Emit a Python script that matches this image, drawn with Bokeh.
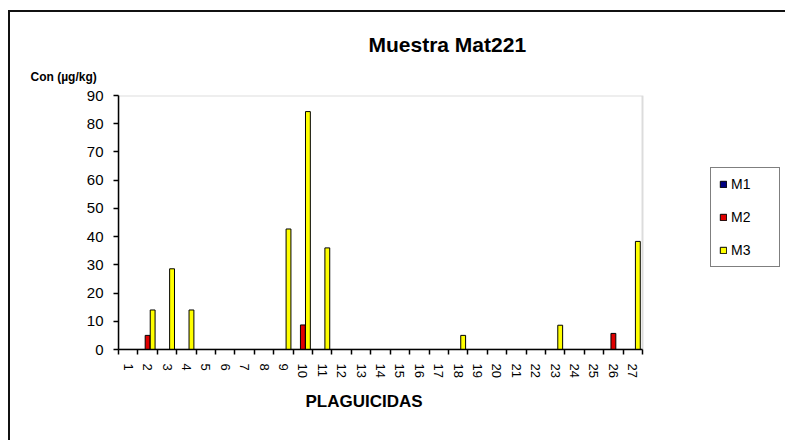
from bokeh.plotting import figure
from bokeh.models import (ColumnDataSource, FixedTicker, Legend, LegendItem,
                          Title, Range1d, BoxAnnotation)
from bokeh.transform import dodge
from bokeh.embed import file_html
from bokeh.resources import INLINE

# ---- data ----
categories = [1, 2, 3, 4, 5, 6, 7, 8, 9, 10, 11, 12, 13, 14, 15, 16, 17, 18,
              19, 20, 21, 22, 23, 24, 25, 26, 27]
tick_labels = [str(c) for c in categories]
series_names = ["M1", "M2", "M3"]
m1 = [0, 0, 0, 0, 0, 0, 0, 0, 0, 0, 0, 0, 0, 0, 0, 0, 0, 0, 0, 0, 0, 0, 0, 0, 0, 0, 0]
m2 = [0, 5, 0, 0, 0, 0, 0, 0, 0, 8.7, 0, 0, 0, 0, 0, 0, 0, 0, 0, 0, 0, 0, 0, 0, 0, 5.7, 0]
m3 = [0, 14, 28.6, 14, 0, 0, 0, 0, 42.7, 84.3, 36, 0, 0, 0, 0, 0, 0, 5, 0, 0, 0, 0, 8.6, 0, 0, 0, 38.3]
y_ticks = [0, 10, 20, 30, 40, 50, 60, 70, 80, 90]

FONT = "Liberation Sans"
colors = ["#000080", "#E00000", "#FFFF00"]

W, H = 785, 440
LEFT, RIGHT_PX, TOP, BOTTOM = 118, 642, 95, 349   # plot-area edges (px)
x_lo, x_hi = categories[0] - 0.5, categories[-1] + 0.5
px_per_unit = (RIGHT_PX - LEFT) / (x_hi - x_lo)
x_view_hi = x_hi + (W - RIGHT_PX) / px_per_unit    # frame extends to the right edge (legend area)

src = ColumnDataSource(dict(cat=categories, m1=m1, m2=m2, m3=m3))

p = figure(width=W, height=H, output_backend="svg", toolbar_location=None,
           x_range=Range1d(x_lo, x_view_hi), y_range=Range1d(y_ticks[0], y_ticks[-1]),
           min_border_left=LEFT, min_border_right=0, min_border_top=TOP,
           min_border_bottom=H - BOTTOM)
# outer chart-area border (left and top edges visible in the window)
p.styles = {"box-shadow": ("inset 0 10px 0 0 #ffffff, inset 8px 0 0 0 #ffffff, "
                           "inset 0 12px 0 0 #111111, inset 10px 0 0 0 #111111")}

p.title = Title(text="Muestra Mat221", align="left", offset=250,
                text_font=FONT, text_font_size="21px", text_font_style="bold",
                text_color="black", standoff=0)
p.add_layout(Title(text="Con (µg/kg)", align="left", offset=-88,
                   text_font=FONT, text_font_size="12px", text_font_style="bold",
                   text_color="black", standoff=24), "above")
p.add_layout(Title(text="PLAGUICIDAS", align="left", offset=187,
                   text_font=FONT, text_font_size="17px", text_font_style="bold",
                   text_color="black", standoff=18), "below")

p.xgrid.visible = False
p.ygrid.visible = False
p.outline_line_color = None
p.background_fill_color = "white"
p.border_fill_alpha = 0

# plot-area border (grey)
p.add_layout(BoxAnnotation(left=x_lo, right=x_hi, bottom=y_ticks[0], top=y_ticks[-1],
                           fill_color=None, fill_alpha=0, line_color="#8c8c8c",
                           line_width=2, level="underlay"))

offsets = [-0.26, 0.0, 0.26]
keys = ["m1", "m2", "m3"]
rends = []
for k, off, c in zip(keys, offsets, colors):
    r = p.vbar(x=dodge("cat", off, range=p.x_range), top=k, width=0.25,
               source=src, fill_color=c, line_color="black", line_width=1)
    rends.append(r)

# axes
xa = p.xaxis[0]
xa.bounds = (x_lo, x_hi)
xa.ticker = FixedTicker(ticks=categories,
                        minor_ticks=[c - 0.5 for c in categories] + [categories[-1] + 0.5])
xa.major_label_overrides = {c: t for c, t in zip(categories, tick_labels)}
xa.major_label_orientation = "vertical"
xa.major_tick_in = 0
xa.major_tick_out = 0
xa.minor_tick_in = 0
xa.minor_tick_out = 5
xa.minor_tick_line_color = "black"
xa.minor_tick_line_width = 1.5
xa.axis_line_color = "black"
xa.axis_line_width = 1.5
xa.major_label_text_font = FONT
xa.major_label_text_font_size = "13px"
xa.major_label_text_color = "black"
xa.major_label_standoff = 9

ya = p.yaxis[0]
ya.ticker = FixedTicker(ticks=y_ticks)
ya.major_tick_in = 0
ya.major_tick_out = 5
ya.minor_tick_out = 0
ya.minor_tick_in = 0
ya.major_tick_line_color = "black"
ya.major_tick_line_width = 1.5
ya.axis_line_color = "black"
ya.axis_line_width = 1.5
ya.major_label_text_font = FONT
ya.major_label_text_font_size = "15px"
ya.major_label_text_color = "black"
ya.major_label_standoff = 10

legend = Legend(items=[LegendItem(label=n, renderers=[r]) for n, r in zip(series_names, rends)],
                location=(592, 82))
legend.glyph_width = 8
legend.glyph_height = 8
legend.label_text_font = FONT
legend.label_text_font_size = "14px"
legend.label_text_color = "black"
legend.label_standoff = 4
legend.label_width = 40
legend.spacing = 17
legend.padding = 8
legend.margin = 0
legend.border_line_color = "black"
legend.border_line_width = 1.5
legend.background_fill_color = "white"
legend.background_fill_alpha = 1
p.add_layout(legend, "center")

open("out.html", "w").write(file_html(p, INLINE))
